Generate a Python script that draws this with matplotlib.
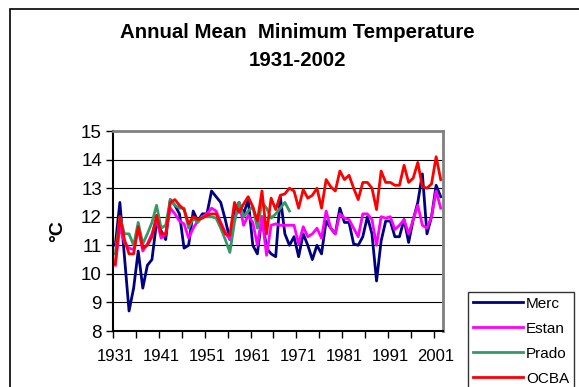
import matplotlib
matplotlib.use('Agg')
import matplotlib.pyplot as plt
from matplotlib.patches import Rectangle
import numpy as np

plt.rcParams['font.family'] = ['Liberation Sans', 'DejaVu Sans']

years = np.arange(1931, 2003)

# values (deg C)
merc = [11.0, 12.5, 10.6, 8.7, 9.5, 10.8, 9.5, 10.3, 10.5, 11.8,
        11.5, 11.2, 12.6, 12.4, 12.1, 10.9, 11.0, 12.2, 11.85, 12.1,
        12.1, 12.9, 12.7, 12.5, 11.9, 11.2, 12.2, 12.5, 12.1, 12.6,
        11.0, 10.7, 12.0, 10.9, 10.7, 10.6, 12.7, 11.4, 11.0, 11.3,
        10.6, 11.4, 11.0, 10.5, 11.0, 10.7, 11.85, 11.6, 11.4, 12.3,
        11.8, 11.8, 11.05, 11.0, 11.3, 12.0, 11.4, 9.75, 11.15, 11.85,
        11.85, 11.3, 11.3, 11.9, 11.1, 11.9, 12.5, 13.5, 11.4, 12.0,
        13.1, 12.7]

estan = [10.3, 11.65, 11.1, 10.9, 10.85, 11.6, 10.8, 11.05, 11.4, 11.9,
         11.25, 11.4, 12.3, 12.1, 11.85, 11.75, 11.25, 11.6, 11.85, 12.0,
         12.1, 12.3, 12.2, 11.8, 11.45, 11.2, 11.9, 12.5, 11.7, 12.05,
         11.8, 11.0, 12.0, 10.65, 11.7, 11.75, 11.7, 11.7, 11.7, 11.7,
         11.05, 11.65, 11.3, 11.4, 11.6, 11.25, 12.2, 11.6, 11.4, 12.1,
         11.95, 11.9, 11.6, 11.3, 12.1, 12.1, 11.9, 11.0, 12.0, 11.95,
         12.0, 11.55, 11.7, 11.9, 11.4, 11.9, 12.4, 11.7, 11.6, 12.0,
         12.9, 12.3]

# Prado stops in 1969
prado = [10.7, 12.0, 11.4, 11.4, 11.0, 11.8, 11.05, 11.4, 11.8, 12.4,
         11.6, 11.7, 12.6, 12.4, 12.3, 12.3, 11.6, 11.95, 11.8, 12.0,
         12.0, 12.0, 11.95, 11.6, 11.2, 10.75, 11.8, 12.5, 12.0, 12.2,
         12.35, 11.6, 12.5, 12.3, 11.95, 12.1, 12.3, 12.5, 12.2]

ocba = [10.35, 12.0, 11.2, 10.7, 10.7, 11.65, 10.9, 11.0, 11.3, 12.05,
        11.4, 11.4, 12.5, 12.6, 12.4, 12.25, 11.75, 12.0, 11.9, 11.95,
        12.05, 12.1, 12.1, 11.75, 11.4, 11.35, 12.5, 12.15, 12.45, 12.7,
        12.35, 11.85, 12.9, 11.4, 12.65, 12.25, 12.75, 12.8, 13.0, 12.9,
        12.3, 12.95, 12.65, 12.75, 13.0, 12.3, 13.3, 13.05, 12.9, 13.6,
        13.3, 13.45, 13.0, 12.6, 13.2, 13.2, 13.0, 12.25, 13.6, 13.2,
        13.2, 13.1, 13.1, 13.8, 13.2, 13.35, 13.9, 13.05, 13.0, 13.15,
        14.1, 13.3]

xlabels = [1931, 1941, 1951, 1961, 1971, 1981, 1991, 2001]

W, H = 579, 387
fig = plt.figure(figsize=(W / 100, H / 100), dpi=100)

# chart area border (runs off the right and bottom of the image)
fig.patches.append(Rectangle((10 / W, -0.2), 1.2, 1 - 9 / H + 0.2,
                             transform=fig.transFigure, fill=False,
                             edgecolor='black', linewidth=1.2))

ax = fig.add_axes([113 / W, 56 / H, 330 / W, 200 / H])

ax.plot(years, merc, color='#000080', lw=2.0, label='Merc')
ax.plot(years, estan, color='#FF00FF', lw=2.0, label='Estan')
ax.plot(years[:len(prado)], prado, color='#339966', lw=2.0, label='Prado')
ax.plot(years, ocba, color='#FF0000', lw=2.0, label='OCBA')

ax.set_xlim(1930.5, 2002.5)
ax.set_ylim(8, 15)
ax.set_yticks(range(8, 16))
ax.yaxis.grid(True, color='black', lw=0.8)
ax.set_axisbelow(True)

ax.set_xticks(xlabels)
ax.set_xticks(np.arange(1930.5, 2003, 5), minor=True)
ax.tick_params(axis='x', which='major', length=0, pad=13, labelsize=12)
ax.tick_params(axis='x', which='minor', length=5, width=1, direction='out')
ax.tick_params(axis='y', length=5, width=1, direction='out', pad=3, labelsize=13.5)

for s in ['top', 'right']:
    ax.spines[s].set_color('#808080')
    ax.spines[s].set_linewidth(2)
for s in ['left', 'bottom']:
    ax.spines[s].set_color('black')
    ax.spines[s].set_linewidth(1.5)

ax.set_ylabel('°C', fontsize=14, fontweight='bold', labelpad=11)

fig.text(297 / W, 1 - 33 / H, 'Annual Mean  Minimum Temperature',
         ha='center', va='center', fontsize=14.7, fontweight='bold')
fig.text(297 / W, 1 - 60 / H, '1931-2002',
         ha='center', va='center', fontsize=14.7, fontweight='bold')

leg = fig.legend(loc='upper left', bbox_to_anchor=(468 / W, 1 - 292 / H),
                 frameon=True, fancybox=False, edgecolor='black',
                 fontsize=11, handlelength=3.3, handletextpad=0.2,
                 labelspacing=0.72, borderpad=0.3, borderaxespad=0)
leg.get_frame().set_linewidth(1.0)
for line in leg.get_lines():
    line.set_linewidth(2.0)

fig.savefig('out.png', dpi=100)
